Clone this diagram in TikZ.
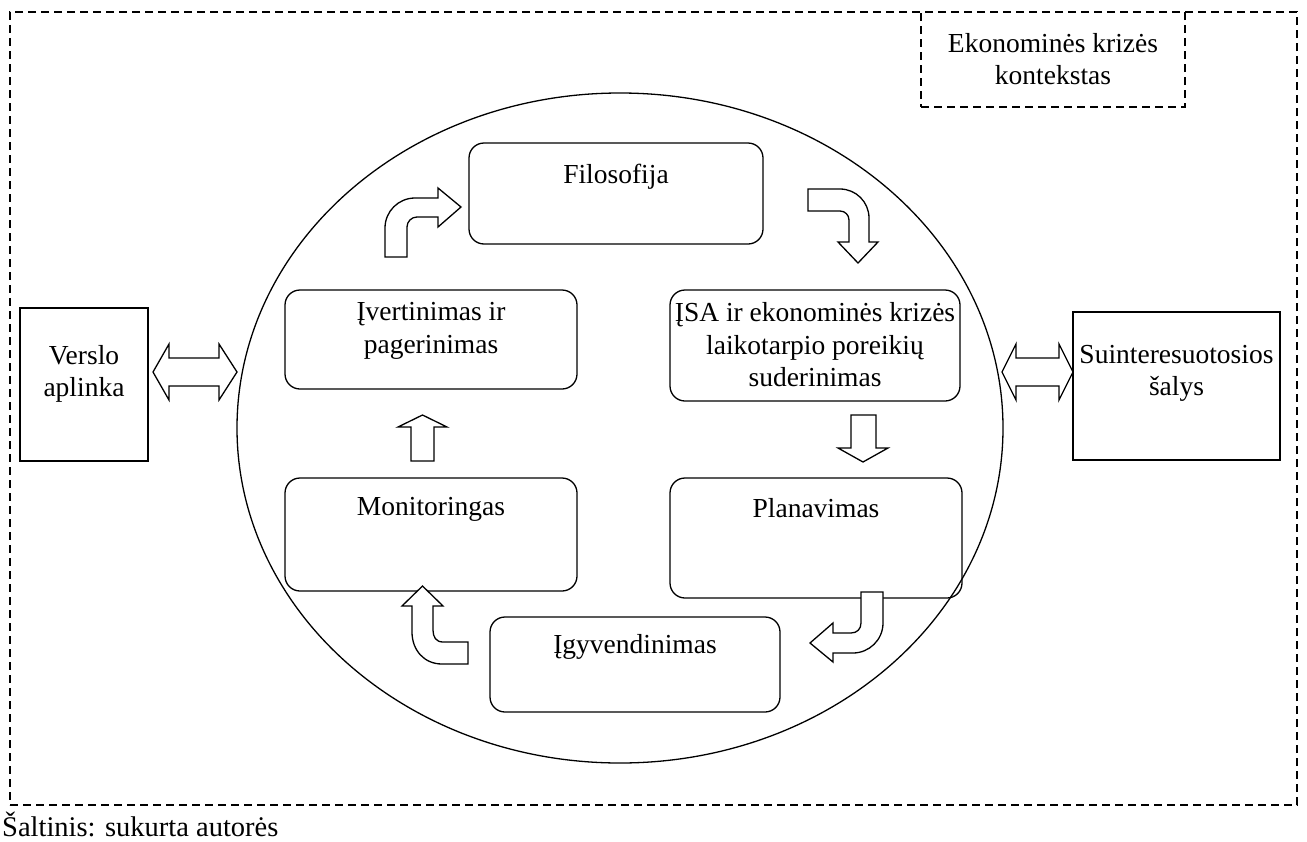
\documentclass[tikz,border=0pt]{standalone}
\usepackage{fontspec}
\setmainfont{Liberation Serif}
\usetikzlibrary{shapes.geometric}
\begin{document}
\begin{tikzpicture}[x=1pt,y=-1pt,
  every node/.style={font=\fontsize{27.5}{32.5}\selectfont},
  frame/.style={draw, line width=1.3pt, dash pattern=on 8pt off 5pt, inner sep=0pt},
  stagebox/.style={draw, line width=1.3pt, rounded corners=15pt, inner sep=0pt},
  sidebox/.style={draw, line width=1.3pt, inner sep=0pt},
  caption/.style={anchor=north, inner sep=0pt, align=center},
  blockarrow/.style={draw, fill=white, line width=1.3pt, line join=miter}]
\useasboundingbox (0,0) rectangle (1307,841);

% outer context frame and its title box
\node[frame, minimum width=1287pt, minimum height=793pt] (outer) at (653.5,408.5) {};
\node[frame, fill=white, minimum width=264pt, minimum height=95pt] (ctx) at (1053,59.5) {};
\node[align=center, inner sep=0pt] (ctxtext) at (1053,59) {Ekonominės krizės\\kontekstas};

% the management cycle
\node[draw, ellipse, line width=1.3pt, minimum width=766pt, minimum height=670pt, inner sep=0pt] (oval) at (620,428) {};

\node[stagebox, minimum width=294pt, minimum height=101pt] (filo) at (616,193.5) {};
\node[stagebox, minimum width=292pt, minimum height=99pt]  (verti) at (431,339.5) {};
\node[stagebox, minimum width=290pt, minimum height=111pt] (isa) at (815,345.5) {};
\node[stagebox, minimum width=292pt, minimum height=113pt] (moni) at (431,534.5) {};
\node[stagebox, minimum width=292pt, minimum height=120pt] (plan) at (816,538) {};
\node[stagebox, minimum width=290pt, minimum height=95pt]  (igyv) at (635,664.5) {};

\node[caption] (filotext) at ([yshift=-22pt]filo.north) {Filosofija};
\node[caption] (vertitext) at ([yshift=-13pt]verti.north) {Įvertinimas ir\\pagerinimas};
\node[caption] (isatext) at ([yshift=-13pt]isa.north) {ĮSA ir ekonominės krizės\\laikotarpio poreikių\\suderinimas};
\node[caption] (monitext) at ([yshift=-20pt]moni.north) {Monitoringas};
\node[caption] (plantext) at ([yshift=-21pt]plan.north) {Planavimas};
\node[caption] (igyvtext) at ([yshift=-18pt]igyv.north) {Įgyvendinimas};

% surrounding parties
\node[sidebox, minimum width=128pt, minimum height=153pt] (verslo) at (84,384.5) {};
\node[align=center, inner sep=0pt] (verslotext) at (84,374) {Verslo\\aplinka};
\node[sidebox, minimum width=207pt, minimum height=148pt] (suint) at (1176.5,386) {};
\node[align=center, inner sep=0pt] (suinttext) at (1176.5,373.5) {Suinteresuotosios\\šalys};

% two-way links to the environment
\draw[blockarrow] (153,372) -- (169,344) -- (169,358) -- (219,358) -- (219,344) -- (237,372)
  -- (219,400) -- (219,386) -- (169,386) -- (169,400) -- cycle;
\draw[blockarrow] (1002,372) -- (1016,344) -- (1016,358) -- (1059,358) -- (1059,344) -- (1073,372)
  -- (1059,400) -- (1059,386) -- (1016,386) -- (1016,400) -- cycle;

% straight steps
\draw[blockarrow] (851,415) -- (876,415) -- (876,448) -- (888,448) -- (863,462) -- (838,448) -- (851,448) -- cycle;
\draw[blockarrow] (411,461) -- (411,427) -- (398,427) -- (422.5,415) -- (447,427) -- (434,427) -- (434,461) -- cycle;

% bent steps
\draw[blockarrow] (385,257) -- (385,228) .. controls (385,211.4) and (398.4,198) .. (415,198)
  -- (438,198) -- (438,188) -- (461,207) -- (438,227) -- (438,217) -- (417,217)
  .. controls (411.5,217) and (407,221.5) .. (407,227) -- (407,257) -- cycle;
\draw[blockarrow] (808,189) -- (840,189) .. controls (856,189) and (869,202) .. (869,218)
  -- (869,242) -- (878,242) -- (858,263) -- (838,242) -- (849,242) -- (849,220)
  .. controls (849,215) and (845,211) .. (840,211) -- (808,211) -- cycle;
\draw[blockarrow] (861,592) -- (883,592) -- (883,623) .. controls (883,640) and (869,653) .. (853,653)
  -- (833,653) -- (833,662) -- (810,643) -- (833,623) -- (833,633) -- (851,633)
  .. controls (857,633) and (861,629) .. (861,623) -- cycle;
\draw[blockarrow] (468,642) -- (468,664) -- (442,664) .. controls (424,664) and (412,650) .. (412,632)
  -- (412,606) -- (402,606) -- (422.5,586) -- (443,606) -- (433,606) -- (433,630)
  .. controls (433,637) and (436,642) .. (443,642) -- cycle;

% source line
\node[anchor=north west, inner sep=0pt, font=\fontsize{28.5}{33}\selectfont] (source) at (2,812) {Šaltinis: sukurta autorės};
\end{tikzpicture}
\end{document}
